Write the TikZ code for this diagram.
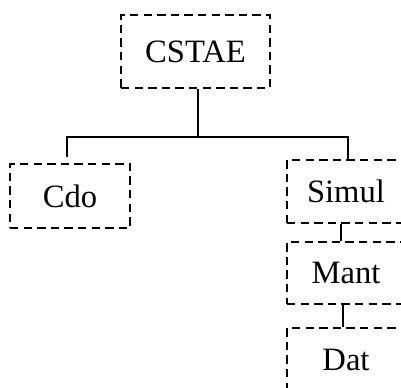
\documentclass[tikz,border=0pt]{standalone}
\usepackage{fontspec}
\setmainfont{Liberation Serif}

\begin{document}
\begin{tikzpicture}[x=0.5pt,y=-0.5pt]

      \clip (0,0) rectangle (401,387);

      \begin{scope}[every node/.style={draw,line width=1pt,dash pattern=on 4.2pt off 2.6pt,
          inner sep=0pt,font=\fontsize{16.3}{19}\selectfont}]
        \node[minimum width=74.5pt,minimum height=36.5pt] (cstae) at (195.5,51.5) {CSTAE};
        \node[minimum width=60pt,minimum height=32pt]   (cdo)   at (70,196)     {Cdo};
        \node[minimum width=59pt,minimum height=31.5pt] (simul) at (346,191.5)  {Simul};
        \node[minimum width=59pt,minimum height=31pt]   (mant)  at (346,273)    {Mant};
        \node[minimum width=59pt,minimum height=31.5pt] (dat)   at (346,359.5)  {Dat};
      \end{scope}

      \coordinate (bar) at (198,137);
      \coordinate (cdotop) at (67,157);

      \begin{scope}[line width=0.6pt]
        \draw (cstae.south -| bar) -- (bar);
        \draw (cdotop) |- (bar) -| (simul.north -| 348,0);
        \draw (simul.south -| 341,0) -- (mant.north -| 341,0);
        \draw (mant.south -| 343,0) -- (dat.north -| 343,0);
      \end{scope}

    \end{tikzpicture}
\end{document}
